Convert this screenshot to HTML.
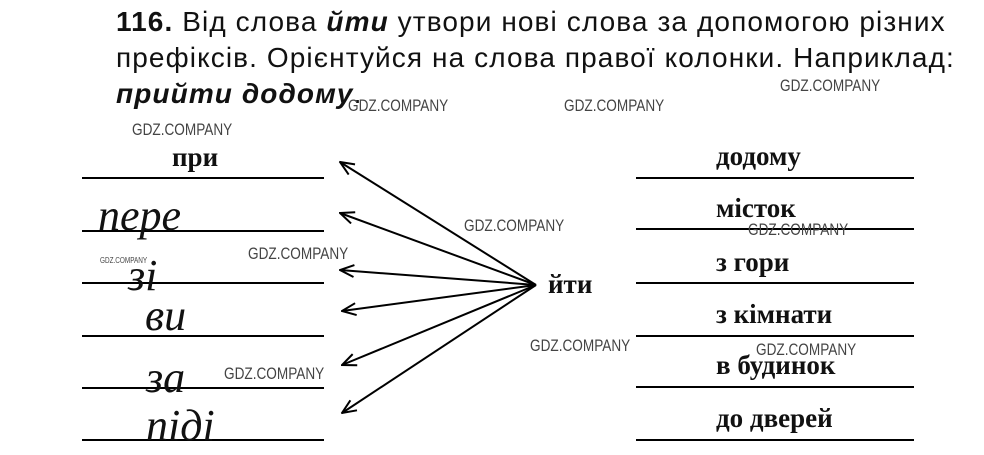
<!DOCTYPE html>
<html><head><meta charset="utf-8"><style>
body{margin:0;background:#fff;width:984px;height:455px;overflow:hidden;position:relative}
.h{position:absolute;left:116px;font-family:"Liberation Sans",sans-serif;font-size:28px;letter-spacing:1.1px;color:#111;white-space:nowrap;line-height:32px}
.w{position:absolute;font-family:"Liberation Sans",sans-serif;font-size:17px;color:#444;transform:scaleX(0.8);transform-origin:left;white-space:nowrap}
</style></head><body>
<div class="h" style="top:6px"><b>116.</b> Від слова <b><i>йти</i></b> утвори нові слова за допомогою різних</div>
<div class="h" style="top:42px">префіксів. Орієнтуйся на слова правої колонки. Наприклад:</div>
<div class="h" style="top:78px"><b><i>прийти додому</i></b>.</div>
<svg width="984" height="455" style="position:absolute;left:0;top:0">
<g stroke="#000" stroke-width="2">
<line x1="82" y1="178" x2="324" y2="178"/><line x1="82" y1="231" x2="324" y2="231"/>
<line x1="82" y1="283" x2="324" y2="283"/><line x1="82" y1="336" x2="324" y2="336"/>
<line x1="82" y1="388" x2="324" y2="388"/><line x1="82" y1="440" x2="324" y2="440"/>
<line x1="636" y1="178" x2="914" y2="178"/><line x1="636" y1="229" x2="914" y2="229"/>
<line x1="636" y1="283" x2="914" y2="283"/><line x1="636" y1="336" x2="914" y2="336"/>
<line x1="636" y1="387" x2="914" y2="387"/><line x1="636" y1="440" x2="914" y2="440"/>
</g>
<defs><marker id="a" markerWidth="16" markerHeight="14" refX="15" refY="7" orient="auto" markerUnits="userSpaceOnUse"><path d="M1,1 L15,7 L1,13" fill="none" stroke="#000" stroke-width="2"/></marker></defs>
<g stroke="#000" stroke-width="2" marker-end="url(#a)">
<line x1="536" y1="285" x2="340" y2="162"/><line x1="536" y1="285" x2="340" y2="213"/>
<line x1="536" y1="285" x2="340" y2="270"/><line x1="536" y1="285" x2="342" y2="311"/>
<line x1="536" y1="285" x2="342" y2="365"/><line x1="536" y1="285" x2="342" y2="413"/>
</g>
<g font-family="Liberation Serif,serif" font-weight="bold" font-size="27" fill="#111">
<text x="172" y="166">при</text>
<text x="548" y="293">йти</text>
<text x="716" y="165">додому</text><text x="716" y="217">місток</text>
<text x="716" y="271">з гори</text><text x="716" y="323">з кімнати</text>
<text x="716" y="374">в будинок</text><text x="716" y="427">до дверей</text>
</g>
<g font-family="Liberation Serif,serif" font-style="italic" font-size="44" fill="#111">
<text x="98" y="230">пере</text><text x="128" y="290">зі</text>
<text x="145" y="330">ви</text><text x="146" y="392">за</text><text x="146" y="440">піді</text>
</g>
</svg>
<div class="w" style="left:132px;top:120px">GDZ.COMPANY</div>
<div class="w" style="left:348px;top:96px">GDZ.COMPANY</div>
<div class="w" style="left:564px;top:96px">GDZ.COMPANY</div>
<div class="w" style="left:780px;top:76px">GDZ.COMPANY</div>
<div class="w" style="left:464px;top:216px">GDZ.COMPANY</div>
<div class="w" style="left:248px;top:244px">GDZ.COMPANY</div>
<div class="w" style="left:748px;top:220px">GDZ.COMPANY</div>
<div class="w" style="left:530px;top:336px">GDZ.COMPANY</div>
<div class="w" style="left:756px;top:340px">GDZ.COMPANY</div>
<div class="w" style="left:224px;top:364px">GDZ.COMPANY</div>
<div class="w" style="left:100px;top:256px;font-size:8px">GDZ.COMPANY</div>
</body></html>
